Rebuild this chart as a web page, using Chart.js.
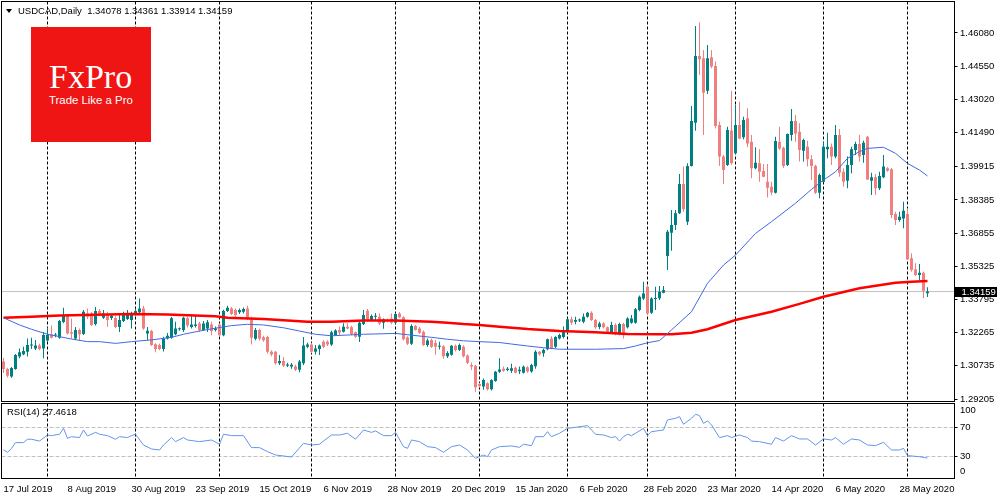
<html>
<head>
<meta charset="UTF-8">
<script src="https://cdn.jsdelivr.net/npm/chart.js@4.4.0/dist/chart.umd.min.js"></script>
<style>
  body { margin:0; background:#fff; width:1000px; height:500px; overflow:hidden; position:relative; font-family:"Liberation Sans", Arial, sans-serif; }
  canvas { position:absolute; left:0; }
  #main { top:0; }
  #rsi { top:402px; }
  .txt { position:absolute; font-size:9.5px; line-height:1; color:#000; white-space:pre; }
  #tri { position:absolute; left:6px; top:9px; width:0; height:0; border-left:3px solid transparent; border-right:3px solid transparent; border-top:4px solid #000; }
  #logo { position:absolute; left:31px; top:27px; width:120px; height:115px; background:#f01515; }
  #logo .big { position:absolute; left:18px; top:33px; font-family:"Liberation Serif", serif; font-size:34px; line-height:1; color:#fff; }
  #logo .small { position:absolute; left:18px; top:68px; font-size:11.4px; line-height:1; color:#fff; white-space:nowrap; }
</style>
</head>
<body>
<canvas id="main" width="1000" height="402"></canvas>
<canvas id="rsi" width="1000" height="98"></canvas>
<div id="tri"></div>
<div class="txt" style="left:18px;top:6px">USDCAD,Daily  1.34078 1.34361 1.33914 1.34159</div>
<div class="txt" style="left:7px;top:407px">RSI(14) 27.4618</div>
<div id="logo"><div class="big">FxPro</div><div class="small">Trade Like a Pro</div></div>

<script>
// daily bars, 17 Jul 2019 .. 8 Jun 2020 (index = bar number)
var opens = [
 1.3093,1.3059,1.3024,1.3059,1.3117,1.3127,1.3139,1.3167,1.3154,1.3167,
 1.3154,1.3190,1.3219,1.3213,1.3203,1.3276,1.3304,1.3228,1.3200,1.3239,
 1.3220,1.3315,1.3315,1.3266,1.3326,1.3295,1.3308,1.3294,1.3294,1.3253,
 1.3280,1.3290,1.3285,1.3311,1.3320,1.3338,1.3223,1.3234,1.3173,1.3170,
 1.3151,1.3200,1.3203,1.3219,1.3242,1.3239,1.3293,1.3253,1.3257,1.3269,
 1.3239,1.3246,1.3264,1.3239,1.3264,1.3215,1.3326,1.3338,1.3331,1.3320,
 1.3323,1.3338,1.3290,1.3198,1.3239,1.3205,1.3207,1.3138,1.3138,1.3085,
 1.3096,1.3074,1.3071,1.3071,1.3056,1.3085,1.3161,1.3172,1.3138,1.3151,
 1.3185,1.3185,1.3172,1.3216,1.3239,1.3231,1.3254,1.3251,1.3228,1.3208,
 1.3266,1.3328,1.3285,1.3300,1.3300,1.3272,1.3285,1.3292,1.3272,1.3315,
 1.3297,1.3205,1.3175,1.3257,1.3246,1.3231,1.3170,1.3193,1.3179,1.3161,
 1.3164,1.3118,1.3125,1.3166,1.3147,1.3161,1.3121,1.3077,1.3073,1.2990,
 1.2978,1.2993,1.2965,1.3004,1.3046,1.3060,1.3054,1.3051,1.3065,1.3049,
 1.3042,1.3067,1.3047,1.3072,1.3138,1.3131,1.3150,1.3200,1.3161,1.3200,
 1.3207,1.3230,1.3288,1.3277,1.3282,1.3277,1.3300,1.3318,1.3285,1.3253,
 1.3269,1.3251,1.3224,1.3262,1.3220,1.3266,1.3251,1.3272,1.3272,1.3331,
 1.3384,1.3438,1.3318,1.3382,1.3385,1.3411,1.3580,1.3687,1.3723,1.3777,
 1.3912,1.3738,1.3995,1.4194,1.4502,1.4491,1.4342,1.4496,1.4456,1.4184,
 1.4038,1.3999,1.4158,1.4053,1.4184,1.4127,1.4215,1.4107,1.3984,1.4007,
 1.3972,1.3922,1.3899,1.3872,1.4107,1.4079,1.3999,1.4138,1.4202,1.4153,
 1.4065,1.4084,1.4026,1.3995,1.3872,1.3922,1.4072,1.4084,1.4038,1.4138,
 1.3968,1.3927,1.3999,1.4068,1.4096,1.4045,1.4130,1.3927,1.3943,1.3892,
 1.3943,1.3984,1.3980,1.3773,1.3746,1.3753,1.3773,1.3569,1.3519,1.3492,
 1.3503,1.34078];
var highs = [
 1.3110,1.3065,1.3068,1.3128,1.3154,1.3162,1.3200,1.3203,1.3193,1.3175,
 1.3230,1.3250,1.3260,1.3225,1.3285,1.3341,1.3310,1.3292,1.3252,1.3246,
 1.3331,1.3338,1.3322,1.3345,1.3336,1.3331,1.3323,1.3312,1.3302,1.3308,
 1.3323,1.3331,1.3323,1.3338,1.3384,1.3350,1.3253,1.3240,1.3178,1.3175,
 1.3208,1.3225,1.3300,1.3277,1.3250,1.3300,1.3300,1.3308,1.3308,1.3277,
 1.3280,1.3285,1.3277,1.3255,1.3270,1.3332,1.3350,1.3345,1.3338,1.3338,
 1.3343,1.3350,1.3300,1.3248,1.3245,1.3212,1.3212,1.3145,1.3142,1.3123,
 1.3114,1.3088,1.3087,1.3078,1.3100,1.3207,1.3180,1.3180,1.3170,1.3172,
 1.3192,1.3192,1.3235,1.3242,1.3255,1.3270,1.3270,1.3258,1.3232,1.3277,
 1.3331,1.3335,1.3310,1.3317,1.3315,1.3292,1.3292,1.3315,1.3318,1.3322,
 1.3302,1.3210,1.3265,1.3262,1.3252,1.3236,1.3200,1.3200,1.3193,1.3184,
 1.3168,1.3141,1.3170,1.3172,1.3176,1.3168,1.3126,1.3089,1.3077,1.2995,
 1.3015,1.2998,1.3012,1.3050,1.3108,1.3070,1.3068,1.3083,1.3070,1.3070,
 1.3075,1.3072,1.3083,1.3145,1.3142,1.3154,1.3200,1.3210,1.3210,1.3222,
 1.3255,1.3292,1.3300,1.3300,1.3292,1.3315,1.3322,1.3325,1.3290,1.3277,
 1.3275,1.3255,1.3277,1.3270,1.3272,1.3272,1.3298,1.3308,1.3340,1.3398,
 1.3461,1.3445,1.3390,1.3438,1.3441,1.3441,1.3700,1.3792,1.3792,1.3958,
 1.3992,1.4007,1.4271,1.4640,1.4657,1.4530,1.4553,1.4530,1.4476,1.4199,
 1.4045,1.4176,1.4342,1.4276,1.4291,1.4222,1.4261,1.4138,1.4081,1.4072,
 1.4004,1.4004,1.3922,1.4130,1.4176,1.4084,1.4145,1.4258,1.4230,1.4192,
 1.4120,1.4111,1.4045,1.4000,1.3960,1.4107,1.4148,1.4099,1.4184,1.4165,
 1.3984,1.4038,1.4084,1.4107,1.4138,1.4111,1.4133,1.3964,1.3958,1.3968,
 1.4045,1.3990,1.3985,1.3784,1.3784,1.3830,1.3800,1.3592,1.3546,1.3543,
 1.3508,1.34361];
var lows = [
 1.3040,1.3020,1.3019,1.3055,1.3108,1.3122,1.3116,1.3151,1.3146,1.3145,
 1.3108,1.3185,1.3200,1.3205,1.3198,1.3270,1.3218,1.3200,1.3193,1.3193,
 1.3216,1.3290,1.3257,1.3260,1.3305,1.3290,1.3253,1.3285,1.3248,1.3230,
 1.3276,1.3285,1.3246,1.3306,1.3315,1.3240,1.3193,1.3165,1.3136,1.3145,
 1.3140,1.3195,1.3198,1.3215,1.3235,1.3230,1.3250,1.3246,1.3250,1.3230,
 1.3235,1.3230,1.3215,1.3232,1.3210,1.3210,1.3322,1.3308,1.3300,1.3312,
 1.3315,1.3285,1.3172,1.3192,1.3190,1.3185,1.3130,1.3118,1.3078,1.3077,
 1.3068,1.3068,1.3060,1.3050,1.3044,1.3077,1.3155,1.3132,1.3126,1.3124,
 1.3155,1.3165,1.3165,1.3212,1.3216,1.3227,1.3242,1.3214,1.3203,1.3183,
 1.3262,1.3280,1.3280,1.3285,1.3262,1.3245,1.3275,1.3265,1.3268,1.3294,
 1.3190,1.3170,1.3170,1.3236,1.3220,1.3165,1.3162,1.3156,1.3125,1.3149,
 1.3106,1.3110,1.3120,1.3140,1.3142,1.3112,1.3082,1.3054,1.2954,1.2972,
 1.2963,1.2960,1.2960,1.3000,1.3040,1.3046,1.3048,1.3040,1.3038,1.3036,
 1.3038,1.3042,1.3042,1.3060,1.3120,1.3115,1.3145,1.3150,1.3155,1.3195,
 1.3200,1.3225,1.3262,1.3265,1.3276,1.3270,1.3295,1.3280,1.3245,1.3242,
 1.3246,1.3224,1.3220,1.3214,1.3214,1.3200,1.3246,1.3268,1.3268,1.3325,
 1.3377,1.3310,1.3312,1.3331,1.3377,1.3408,1.3515,1.3604,1.3700,1.3773,
 1.3784,1.3723,1.3992,1.4157,1.4414,1.4138,1.4327,1.4445,1.4168,1.3995,
 1.3912,1.3995,1.4000,1.4050,1.4118,1.4118,1.4081,1.3938,1.3980,1.3922,
 1.3943,1.3850,1.3860,1.3868,1.4068,1.3985,1.3995,1.4111,1.4107,1.4015,
 1.4015,1.3992,1.3930,1.3866,1.3846,1.3920,1.4030,1.3999,1.4030,1.3945,
 1.3899,1.3892,1.3961,1.4045,1.4015,1.4010,1.3930,1.3861,1.3861,1.3884,
 1.3938,1.3968,1.3754,1.3723,1.3738,1.3708,1.3561,1.3507,1.3488,1.3469,
 1.3385,1.33914];
var closes = [
 1.3059,1.3028,1.3063,1.3123,1.3136,1.3142,1.3170,1.3170,1.3167,1.3151,
 1.3216,1.3216,1.3203,1.3216,1.3280,1.3304,1.3223,1.3222,1.3239,1.3219,
 1.3323,1.3300,1.3262,1.3326,1.3312,1.3315,1.3285,1.3304,1.3253,1.3285,
 1.3311,1.3311,1.3315,1.3326,1.3338,1.3246,1.3235,1.3170,1.3151,1.3151,
 1.3200,1.3212,1.3293,1.3246,1.3244,1.3295,1.3259,1.3264,1.3264,1.3239,
 1.3269,1.3274,1.3234,1.3246,1.3215,1.3326,1.3341,1.3313,1.3308,1.3331,
 1.3336,1.3290,1.3203,1.3239,1.3198,1.3192,1.3138,1.3126,1.3085,1.3096,
 1.3074,1.3080,1.3078,1.3056,1.3093,1.3167,1.3172,1.3138,1.3154,1.3167,
 1.3161,1.3172,1.3228,1.3236,1.3227,1.3254,1.3246,1.3219,1.3208,1.3272,
 1.3308,1.3285,1.3303,1.3303,1.3269,1.3288,1.3280,1.3272,1.3312,1.3297,
 1.3196,1.3175,1.3257,1.3239,1.3226,1.3170,1.3190,1.3161,1.3161,1.3164,
 1.3118,1.3133,1.3166,1.3147,1.3170,1.3118,1.3088,1.3070,1.2975,1.2981,
 1.3008,1.2965,1.3008,1.3046,1.3057,1.3051,1.3060,1.3062,1.3042,1.3056,
 1.3069,1.3047,1.3077,1.3138,1.3127,1.3146,1.3196,1.3154,1.3207,1.3216,
 1.3239,1.3288,1.3272,1.3285,1.3285,1.3300,1.3318,1.3285,1.3251,1.3269,
 1.3251,1.3231,1.3262,1.3220,1.3266,1.3215,1.3292,1.3292,1.3334,1.3392,
 1.3407,1.3315,1.3384,1.3385,1.3415,1.3423,1.3692,1.3723,1.3777,1.3912,
 1.3795,1.3995,1.4202,1.4502,1.4487,1.4333,1.4491,1.4453,1.4179,1.4038,
 1.3976,1.4161,1.4007,1.4184,1.4122,1.4207,1.4099,1.3984,1.4010,1.3968,
 1.3945,1.3895,1.3873,1.4110,1.4076,1.3995,1.4142,1.4202,1.4145,1.4068,
 1.4115,1.4026,1.3995,1.3872,1.3953,1.4084,1.4084,1.4038,1.4138,1.3964,
 1.3922,1.3999,1.4072,1.4096,1.4038,1.4102,1.3933,1.3943,1.3892,1.3949,
 1.3992,1.3973,1.3769,1.3746,1.3761,1.3789,1.3564,1.3515,1.3492,1.3503,
 1.3420,1.34159];

// moving averages at some bars
var ma50X = [0,4,7,11,14,17,21,24,28,32,37,42,45,49,53,57,61,65,70,74,78,82,90,98,107,111,115,119,124,127,131,135,139,148,155,158,161,164,167,172,176,180,183,188,192,198,202,205,208,211,214,216,220,223,226,229,231];
var ma50Y = [1.3295,1.3262,1.3242,1.3219,1.3208,1.3197,1.3185,1.3185,1.3177,1.3185,1.3193,1.3205,1.3219,1.3234,1.3247,1.3259,1.3265,1.3262,1.3249,1.3234,1.3219,1.3212,1.3219,1.3223,1.3205,1.3196,1.3189,1.3185,1.3181,1.3174,1.3165,1.3157,1.3150,1.3150,1.3153,1.3165,1.3180,1.3190,1.3239,1.3323,1.3454,1.3538,1.3584,1.3684,1.3738,1.3823,1.3887,1.3930,1.3968,1.4030,1.4061,1.4076,1.4081,1.4053,1.4007,1.3976,1.3949];
var ma200X = [0,7,14,32,41,53,56,65,71,76,82,90,98,107,111,115,119,124,131,139,148,156,164,167,172,176,183,192,199,205,214,223,227,231];
var ma200Y = [1.3295,1.3300,1.3305,1.3312,1.3310,1.3302,1.3295,1.3289,1.3283,1.3277,1.3277,1.3282,1.3282,1.3277,1.3272,1.3266,1.3262,1.3254,1.3243,1.3234,1.3228,1.3220,1.3219,1.3219,1.3226,1.3242,1.3285,1.3323,1.3359,1.3392,1.3431,1.3457,1.3461,1.3465];

var rsiX = [0,1,2,3,5,6,7,9,11,12,14,15,16,17,19,20,21,23,24,26,28,29,31,32,33,35,37,39,40,42,43,45,46,49,52,54,55,57,60,62,64,66,68,70,72,75,77,79,80,82,84,86,88,90,92,93,95,97,98,100,101,102,104,106,108,110,112,114,116,118,120,121,122,124,127,129,130,132,133,135,136,137,139,141,143,146,148,150,152,153,154,155,156,157,158,160,161,162,165,166,168,169,170,172,173,174,175,176,177,179,181,182,184,186,187,189,192,193,195,197,199,201,203,205,207,208,210,212,214,216,218,220,222,224,225,226,229,231];
var rsiY = [38.7,35.5,41,48.9,48.9,53.5,53.5,51,59.4,58.5,60.4,68.6,54.8,57.1,55.8,66.3,58,63,60.4,58.5,53.5,57.1,55.8,58.5,60.4,45.6,40.1,38.7,45.6,55.8,50.2,55.8,52.5,50.2,52.5,46.6,60.4,58.5,58.5,42,42,36.4,31.8,30.5,29,47.9,45.6,46.6,51,59.4,59.4,61.7,53.5,66.3,63,65,58.5,58.5,63,43.3,41,52.5,50.2,43.3,42,35.5,43.3,45.6,38.7,27.2,31.8,29.5,38.7,43.3,44.3,42.4,46.6,44.7,57.1,57.1,64,57.1,61.7,68.6,70,72.3,60.4,59.4,55.8,57.1,51,57.1,60.4,58.5,61.7,68.6,58.5,64,66.3,80.1,82.4,84.7,74.2,82.4,88,86.1,75.5,78.8,73.2,55.8,58.5,55.8,59.4,55.8,51,50.2,46.6,55.8,51,58.5,53.9,53.9,45.6,53.9,52.5,55.8,46.6,53.9,52.5,45.6,44.7,49.3,38.7,38.7,41,30.9,29.5,27.5];

// axes
var priceTicks = [1.46080,1.44550,1.43020,1.41490,1.39915,1.38385,1.36855,1.35325,1.33795,1.32265,1.30735,1.29205];
var rsiTicks = [92.7,70,30,8.7];
var rsiLabels = ['100','70','30','0'];
var rsiLevels = [70,30];
var labelIdx = [0,16,32,48,64,80,96,112,128,144,160,176,192,208,224];
var dateLabels = ['17 Jul 2019','8 Aug 2019','30 Aug 2019','23 Sep 2019','15 Oct 2019','6 Nov 2019','28 Nov 2019','20 Dec 2019','15 Jan 2020','6 Feb 2020','28 Feb 2020','23 Mar 2020','14 Apr 2020','6 May 2020','28 May 2020'];
var monthStarts = [11,33,54,77,98,119,141,161,183,205,226];

var bull = '#008080', bear = '#f08080';
var lastPrice = closes[closes.length - 1];
Chart.defaults.font.family = '"Liberation Sans", Arial, sans-serif';
Chart.defaults.font.size = 9.5;
Chart.defaults.color = '#000';

function pts(xs, ys) { return xs.map(function (x, i) { return {x: x, y: ys[i]}; }); }
var bodies = closes.map(function (c, i) { return {x: i, y: [opens[i], c]}; });
var wicks = closes.map(function (c, i) { return {x: i, y: [lows[i], highs[i]]}; });
function candleColor(c) { var i = c.dataIndex; return closes[i] >= opens[i] ? bull : bear; }

// keep the axis from padding the plot area
function fixWidth(s) { s.width = 45.5; s.paddingTop = 0; s.paddingBottom = 0; }
function fixHeight(s) { s.height = 21.5; s.paddingLeft = 0; s.paddingRight = 0; }

// frame, month separators, rsi levels, price tag
var paneDeco = {
  id: 'paneDeco',
  beforeDatasetsDraw: function (chart) {
    var ctx = chart.ctx, a = chart.chartArea, x = chart.scales.x;
    ctx.save();
    ctx.lineWidth = 1;
    if (chart.canvas.id == 'rsi') {
      ctx.strokeStyle = '#c0c0c0';
      ctx.setLineDash([4, 2]);
      rsiLevels.forEach(function (v) {
        var py = Math.round(chart.scales.y.getPixelForValue(v) - 0.5) + 0.5;
        ctx.beginPath(); ctx.moveTo(a.left, py); ctx.lineTo(a.right, py); ctx.stroke();
      });
    }
    ctx.strokeStyle = '#000';
    ctx.setLineDash([3, 2]);
    monthStarts.forEach(function (i) {
      var px = Math.round(x.getPixelForValue(i) - 0.5) + 0.5;
      ctx.beginPath(); ctx.moveTo(px, a.top); ctx.lineTo(px, a.bottom); ctx.stroke();
    });
    ctx.restore();
  },
  afterDraw: function (chart) {
    var ctx = chart.ctx, a = chart.chartArea;
    ctx.save();
    ctx.strokeStyle = '#000';
    ctx.lineWidth = 1;
    ctx.strokeRect(a.left, a.top, a.right - a.left, a.bottom - a.top);
    if (chart.canvas.id == 'main') {
      var py = chart.scales.y.getPixelForValue(lastPrice);
      ctx.fillStyle = '#000';
      ctx.fillRect(955, Math.round(py) - 5, 42, 10);
      ctx.fillStyle = '#fff';
      ctx.font = Chart.defaults.font.size + 'px ' + Chart.defaults.font.family;
      ctx.textBaseline = 'middle';
      ctx.fillText(lastPrice.toFixed(5), 961.5, Math.round(py));
    }
    ctx.restore();
  }
};

new Chart(document.getElementById('main'), {
  type: 'bar',
  data: {
    datasets: [
      {type: 'line', data: [{x: -1, y: lastPrice}, {x: 240, y: lastPrice}], borderColor: '#c0c0c0', borderWidth: 1, pointRadius: 0, order: 5},
      {data: wicks, backgroundColor: candleColor, barThickness: 1, grouped: false, inflateAmount: 0, order: 4},
      {data: bodies, backgroundColor: candleColor, barThickness: 3, minBarLength: 1, grouped: false, inflateAmount: 0, order: 3},
      {type: 'line', data: pts(ma200X, ma200Y), borderColor: '#ff0000', borderWidth: 2.5, pointRadius: 0, order: 2},
      {type: 'line', data: pts(ma50X, ma50Y), borderColor: '#4169e1', borderWidth: 1, pointRadius: 0, order: 1}
    ]
  },
  options: {
    responsive: false, animation: false, events: [],
    layout: {padding: {left: 1.5, top: 1.5, right: 0, bottom: 0.5}},
    plugins: {legend: {display: false}, tooltip: {enabled: false}},
    scales: {
      x: {type: 'linear', min: -0.5, max: 237.75, offset: false, display: false},
      y: {
        type: 'linear', position: 'right', min: 1.29091, max: 1.47531, beginAtZero: false,
        afterFit: fixWidth,
        afterBuildTicks: function (s) { s.ticks = priceTicks.map(function (v) { return {value: v}; }); },
        ticks: {padding: 2.5, callback: function (v) { return v.toFixed(5); }},
        grid: {drawOnChartArea: false, color: '#000', tickLength: 3},
        border: {display: false}
      }
    }
  },
  plugins: [paneDeco]
});

new Chart(document.getElementById('rsi'), {
  type: 'line',
  data: {
    datasets: [{data: pts(rsiX, rsiY), borderColor: '#6495ed', borderWidth: 1, pointRadius: 0}]
  },
  options: {
    responsive: false, animation: false, events: [],
    layout: {padding: {left: 1.5, top: 1.5, right: 0, bottom: 0}},
    plugins: {legend: {display: false}, tooltip: {enabled: false}},
    scales: {
      x: {
        type: 'linear', min: -0.5, max: 237.75, offset: false,
        afterFit: fixHeight,
        afterBuildTicks: function (s) { s.ticks = labelIdx.map(function (v) { return {value: v}; }); },
        ticks: {align: 'start', maxRotation: 0, autoSkip: false, padding: 5, callback: function (v, i) { return dateLabels[i]; }},
        grid: {display: false, drawTicks: false},
        border: {display: false}
      },
      y: {
        type: 'linear', position: 'right', min: -0.6, max: 102.8,
        afterFit: fixWidth,
        afterBuildTicks: function (s) { s.ticks = rsiTicks.map(function (v) { return {value: v}; }); },
        ticks: {padding: 2.5, callback: function (v, i) { return rsiLabels[i]; }},
        grid: {drawOnChartArea: false, tickLength: 3, color: function (c) { return (c.tick && rsiLevels.indexOf(c.tick.value) >= 0) ? '#000' : 'rgba(0,0,0,0)'; }},
        border: {display: false}
      }
    }
  },
  plugins: [paneDeco]
});
</script>
</body>
</html>
